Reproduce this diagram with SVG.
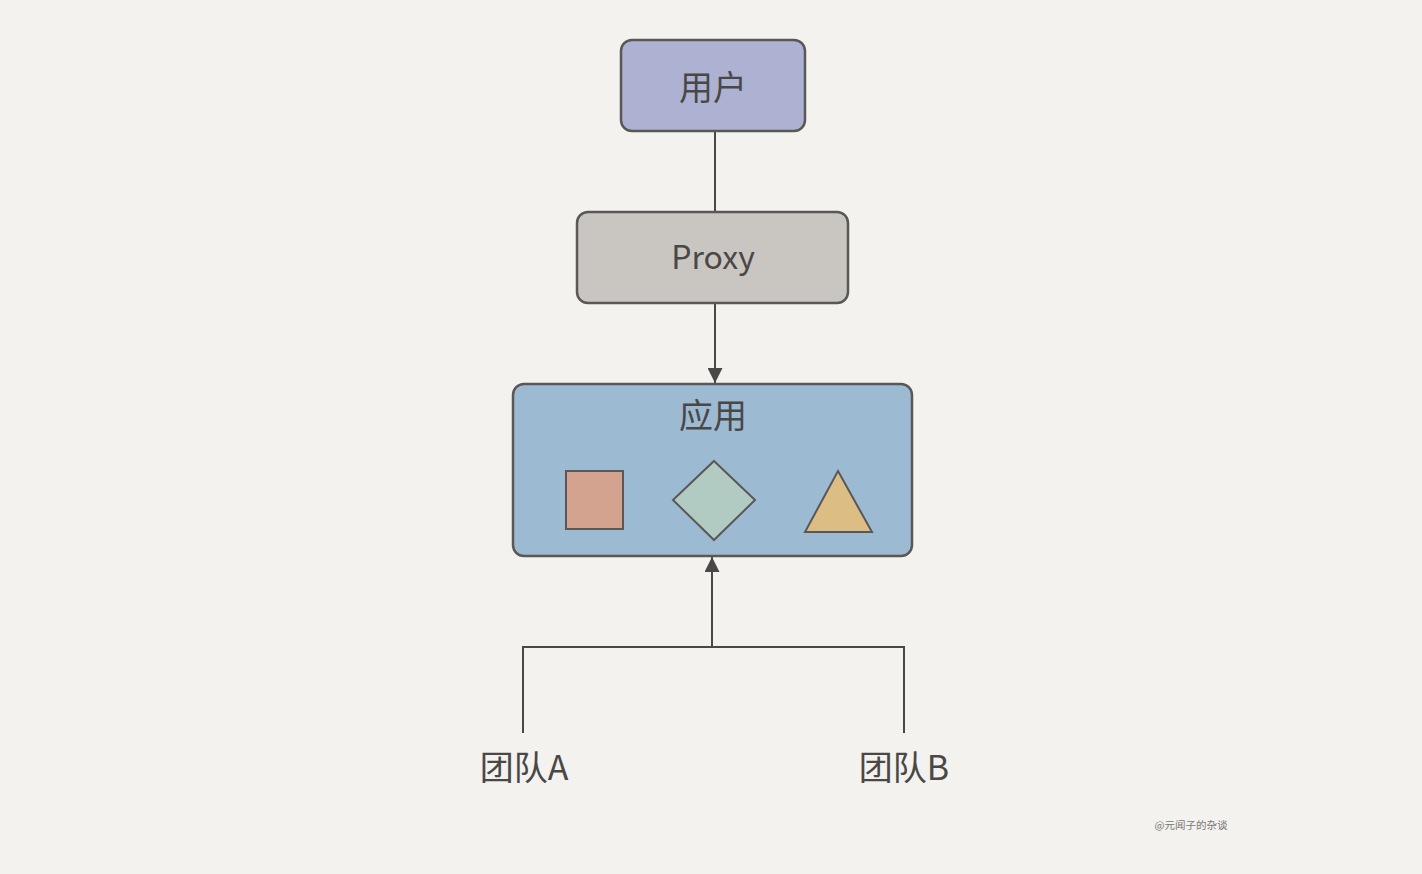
<svg xmlns="http://www.w3.org/2000/svg" width="1422" height="874" viewBox="0 0 1422 874">
<style>
.box{stroke:#5a5856;stroke-width:2.5}
.lbl{font-family:"Noto Sans CJK SC","Noto Sans",sans-serif;fill:#4a4846;text-anchor:middle}
.ln{stroke:#4a4846;stroke-width:2;fill:none}
.shp{stroke:#5a5856;stroke-width:2}
</style>
<defs>
<marker id="ah2" viewBox="0 0 10 10" refX="10" refY="5" markerWidth="15" markerHeight="15" markerUnits="userSpaceOnUse" orient="auto">
<path d="M0,0 L10,5 L0,10 z" fill="#4a4846"/>
</marker>
</defs>
<rect width="1422" height="874" fill="#f3f2ee"/>
<g id="connectors">
<line class="ln" x1="715" y1="131" x2="715" y2="212"/>
<line class="ln" x1="715" y1="303" x2="715" y2="383" marker-end="url(#ah2)"/>
<line class="ln" x1="712" y1="646" x2="712" y2="557" marker-end="url(#ah2)"/>
<polyline class="ln" points="523,733 523,647 904,647 904,733"/>
</g>
<g id="user">
<rect class="box" x="621" y="40" width="184" height="91" rx="11" fill="#adb2d2"/>
<text class="lbl" x="713" y="100" font-size="34">用户</text>
</g>
<g id="proxy">
<rect class="box" x="577" y="212" width="271" height="91" rx="11" fill="#c9c5c0"/>
<text class="lbl" x="713" y="269" font-size="32">Proxy</text>
</g>
<g id="app">
<rect class="box" x="513" y="384" width="399" height="172" rx="11" fill="#9dbad3"/>
<text class="lbl" x="713" y="428" font-size="34">应用</text>
<rect class="shp" x="566" y="471" width="57" height="58" fill="#d3a390"/>
<polygon class="shp" points="714,461 755,500 714,540 673,500" fill="#b2cbc2"/>
<polygon class="shp" points="838,471 872,532 805,532" fill="#dcbd84"/>
</g>
<g id="teamA">
<text class="lbl" x="524" y="780" font-size="34">团队A</text>
</g>
<g id="teamB">
<text class="lbl" x="904" y="780" font-size="34">团队B</text>
</g>
<text x="1191" y="829" font-family="Noto Sans CJK SC,sans-serif" font-size="10.5" fill="#777" text-anchor="middle">@元闻子的杂谈</text>
</svg>
